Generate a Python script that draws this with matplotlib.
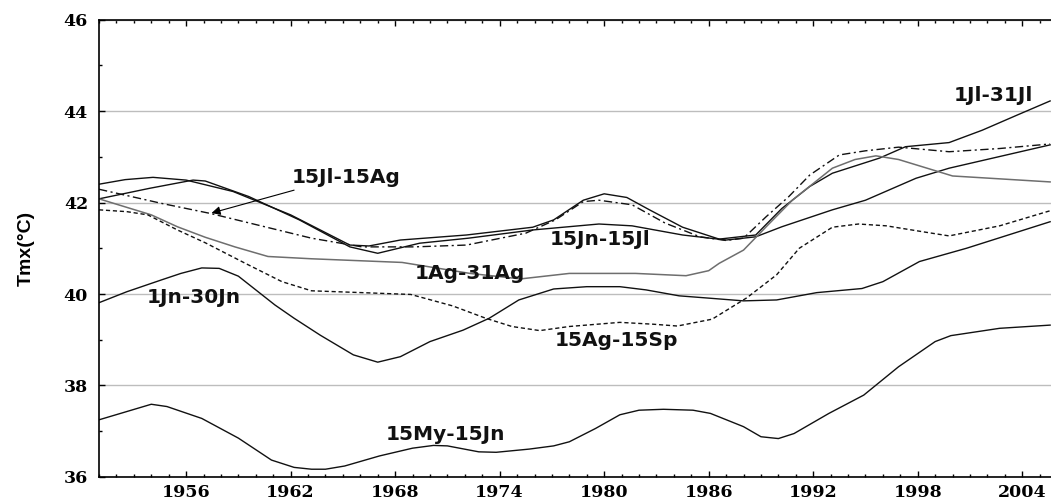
import matplotlib
matplotlib.use("Agg")
import matplotlib.pyplot as plt
from matplotlib.ticker import MultipleLocator

# values (year, Tmx in degC)
jl_years = [1951, 1952.5, 1954.1, 1956.0, 1958.7, 1962.0, 1965.4, 1966.5, 1968.3, 1972.1,
            1975.9, 1977.1, 1978.8, 1980.0, 1981.3, 1982.6, 1984.5, 1986.6, 1988.7, 1990.2,
            1991.8, 1993.1, 1995.8, 1997.3, 1999.8, 2001.7, 2003.7, 2005.6]
jl_vals = [42.40, 42.50, 42.55, 42.49, 42.24, 41.73, 41.07, 41.05, 41.18, 41.29,
           41.46, 41.62, 42.05, 42.19, 42.11, 41.84, 41.46, 41.20, 41.29, 41.87,
           42.35, 42.64, 42.97, 43.22, 43.31, 43.58, 43.91, 44.22]

jnjl_years = [1951, 1953.9, 1956.4, 1957.1, 1959.6, 1962.5, 1965.4, 1967.0, 1969.4, 1972.2,
              1975.9, 1979.7, 1981.6, 1984.5, 1987.0, 1988.7, 1990.2, 1993.1, 1995.0, 1997.9,
              1999.8, 2005.6]
jnjl_vals = [42.08, 42.31, 42.49, 42.47, 42.13, 41.62, 41.03, 40.89, 41.11, 41.22,
             41.40, 41.53, 41.49, 41.29, 41.18, 41.25, 41.47, 41.84, 42.05, 42.53,
             42.75, 43.26]

jlag_years = [1951, 1954.6, 1957.4, 1960.3, 1963.2, 1966.1, 1969.1, 1972.1, 1975.5, 1977.2,
              1978.8, 1979.7, 1981.6, 1983.5, 1985.5, 1987.0, 1988.0, 1989.3, 1990.6, 1991.8,
              1993.5, 1995.0, 1996.9, 1999.8, 2002.7, 2005.6]
jlag_vals = [42.29, 41.98, 41.76, 41.49, 41.22, 41.03, 41.03, 41.07, 41.33, 41.62,
             42.02, 42.05, 41.95, 41.55, 41.25, 41.17, 41.22, 41.69, 42.13, 42.60,
             43.04, 43.13, 43.21, 43.11, 43.18, 43.28]

ag_years = [1951, 1954.0, 1955.5, 1957.1, 1958.8, 1960.7, 1963.2, 1968.4, 1972.3, 1975.2,
            1978.0, 1981.8, 1984.7, 1986.0, 1986.6, 1988.0, 1989.3, 1990.8, 1993.1, 1994.4,
            1995.6, 1996.9, 2000.0, 2005.6]
ag_vals = [42.08, 41.73, 41.47, 41.24, 41.03, 40.82, 40.77, 40.69, 40.45, 40.33,
           40.45, 40.45, 40.40, 40.51, 40.67, 40.96, 41.47, 42.05, 42.75, 42.94,
           43.02, 42.94, 42.58, 42.45]

agsp_years = [1951, 1952.6, 1953.8, 1955.5, 1957.1, 1959.4, 1961.5, 1963.2, 1966.1, 1968.9,
              1971.3, 1973.2, 1974.7, 1976.3, 1978.0, 1980.9, 1982.8, 1984.2, 1986.2, 1988.2,
              1989.9, 1991.2, 1993.1, 1994.6, 1996.2, 1998.3, 1999.8, 2002.7, 2005.6]
agsp_vals = [41.84, 41.80, 41.73, 41.40, 41.12, 40.67, 40.27, 40.07, 40.03, 39.99,
             39.74, 39.47, 39.29, 39.20, 39.29, 39.38, 39.34, 39.30, 39.45, 39.92,
             40.42, 41.00, 41.46, 41.53, 41.49, 41.36, 41.27, 41.49, 41.82]

jn_years = [1951, 1952.6, 1954.6, 1955.7, 1956.9, 1957.9, 1959.0, 1961.1, 1962.2, 1963.7,
            1965.6, 1967.0, 1968.3, 1970.0, 1971.9, 1973.4, 1975.1, 1977.1, 1979.0, 1980.9,
            1982.4, 1984.3, 1986.0, 1988.0, 1989.9, 1992.2, 1994.8, 1996.0, 1998.1, 2000.8,
            2005.6]
jn_vals = [39.81, 40.05, 40.31, 40.45, 40.57, 40.56, 40.39, 39.76, 39.47, 39.10,
           38.67, 38.51, 38.63, 38.96, 39.21, 39.47, 39.87, 40.11, 40.16, 40.16,
           40.09, 39.96, 39.91, 39.85, 39.87, 40.03, 40.12, 40.27, 40.71, 41.00,
           41.58]

my_years = [1951, 1954.0, 1954.9, 1956.9, 1959.0, 1960.9, 1962.2, 1963.2, 1964.0, 1965.1,
            1967.1, 1969.0, 1970.2, 1971.0, 1972.8, 1973.8, 1975.7, 1977.1, 1978.0, 1979.5,
            1980.9, 1982.0, 1983.4, 1985.1, 1986.1, 1988.0, 1989.0, 1990.0, 1990.9, 1992.9,
            1994.9, 1996.9, 1999.0, 1999.9, 2002.7, 2005.6]
my_vals = [37.25, 37.59, 37.54, 37.28, 36.85, 36.37, 36.21, 36.17, 36.17, 36.24,
           36.46, 36.63, 36.69, 36.68, 36.55, 36.54, 36.61, 36.68, 36.77, 37.06,
           37.36, 37.46, 37.48, 37.46, 37.39, 37.10, 36.88, 36.84, 36.95, 37.39,
           37.79, 38.41, 38.96, 39.09, 39.25, 39.32]

# curve labels: text, year, Tmx
labels = [("1Jl-31Jl", 2002.35, 44.35),
          ("15Jl-15Ag", 1965.2, 42.54),
          ("15Jn-15Jl", 1979.75, 41.20),
          ("1Ag-31Ag", 1972.3, 40.44),
          ("1Jn-30Jn", 1956.45, 39.92),
          ("15Ag-15Sp", 1980.7, 38.99),
          ("15My-15Jn", 1970.9, 36.93)]

fig = plt.figure(figsize=(10.51, 5.03), dpi=100)
ax = fig.add_axes([0.0942, 0.0517, 0.9058, 0.9095])

ax.yaxis.grid(True, color='#bdbdbd', lw=1.0)
ax.set_axisbelow(True)

ax.plot(jl_years, jl_vals, color='#111111', lw=1.0)
ax.plot(jnjl_years, jnjl_vals, color='#111111', lw=1.0)
ax.plot(jlag_years, jlag_vals, color='#111111', lw=1.0, dashes=(6, 2.5, 1.5, 2.5))
ax.plot(ag_years, ag_vals, color='#6e6e6e', lw=1.1)
ax.plot(agsp_years, agsp_vals, color='#111111', lw=1.0, dashes=(3, 2))
ax.plot(jn_years, jn_vals, color='#111111', lw=1.0)
ax.plot(my_years, my_vals, color='#111111', lw=1.0)

for txt, x, y in labels:
    ax.text(x, y, txt, ha='center', va='center', fontsize=14.5,
            fontweight='bold', family='DejaVu Sans', color='#111111')

ax.annotate('', xy=(1957.46, 41.77), xytext=(1962.2, 42.27),
            arrowprops=dict(arrowstyle='-|>', color='black', lw=0.8,
                            mutation_scale=13, shrinkA=0, shrinkB=0))

ax.set_xlim(1951, 2005.65)
ax.set_ylim(36, 46)
ax.set_xticks(range(1956, 2005, 6))
ax.xaxis.set_minor_locator(MultipleLocator(1))
ax.yaxis.set_major_locator(MultipleLocator(2))
ax.yaxis.set_minor_locator(MultipleLocator(1))

ax.tick_params(which='both', direction='in', top=True, right=False, width=1.0)
ax.tick_params(which='major', length=4)
ax.tick_params(which='minor', length=2.5)
ax.tick_params(axis='x', which='major', pad=5)
ax.tick_params(axis='y', which='major', pad=8)
for lab in ax.get_xticklabels() + ax.get_yticklabels():
    lab.set_family('DejaVu Serif')
    lab.set_fontweight('bold')
    lab.set_fontsize(12.5)

for side in ['left', 'bottom', 'top']:
    ax.spines[side].set_linewidth(1.2)
ax.spines['right'].set_visible(False)

ax.set_ylabel('Tmx(°C)', family='Liberation Sans', fontweight='bold', fontsize=14)
ax.yaxis.set_label_coords(-0.068, 0.5)

fig.savefig('out.png', dpi=100)
